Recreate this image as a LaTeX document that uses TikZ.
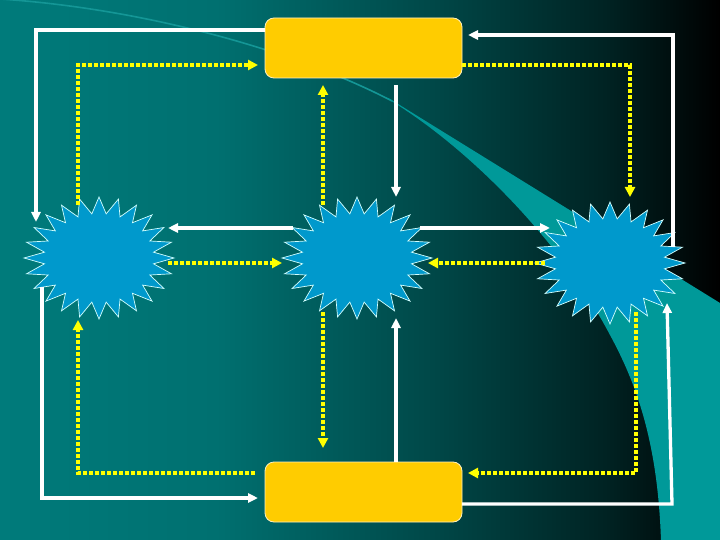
\documentclass[tikz,border=0pt]{standalone}
\usetikzlibrary{arrows.meta,calc}
\definecolor{bgA}{RGB}{0,123,123}
\definecolor{bgB}{RGB}{0,112,112}
\definecolor{bgC}{RGB}{0,72,72}
\definecolor{bgD}{RGB}{0,35,35}
\definecolor{swoosh}{RGB}{0,153,153}
\definecolor{arcline}{RGB}{20,150,150}
\definecolor{starfill}{RGB}{0,153,204}
\definecolor{starline}{RGB}{210,255,255}
\definecolor{boxfill}{RGB}{255,204,0}
\definecolor{boxline}{RGB}{255,240,190}
\definecolor{dotyellow}{RGB}{255,255,0}
\pgfdeclarehorizontalshading{bgshade}{100bp}{color(0bp)=(bgA); color(25bp)=(bgA); color(40bp)=(bgB); color(55bp)=(bgC); color(67bp)=(bgD); color(75bp)=(black); color(100bp)=(black)}
\newcommand{\burst}[1]{%
  \path[starline] ($(#1)+(0,-61)$)
  \foreach \k [evaluate=\k as \a using {90+7.5*\k},
               evaluate=\k as \rx using {75-20*(\k-2*floor(\k/2))},
               evaluate=\k as \ry using {61-16.5*(\k-2*floor(\k/2))}] in {1,...,47}
    { -- ($(#1)+({\rx*cos(\a)},{-\ry*sin(\a)})$) } -- cycle;}
\begin{document}
\begin{tikzpicture}[x=1pt,y=-1pt,
  boxnode/.style={draw=boxline, line width=0.8pt, fill=boxfill, rounded corners=9pt,
    minimum width=197pt, minimum height=60pt, inner sep=0pt, outer sep=0pt},
  starnode/.style={inner sep=0pt, outer sep=0pt, minimum width=150pt, minimum height=122pt},
  starline/.style={draw=starline, fill=starfill, line width=0.7pt, line join=miter},
  whitearrow/.style={draw=white, line width=3.3pt, -{Triangle[length=10pt,width=9pt]}},
  yellowarrow/.style={draw=dotyellow, line width=4pt, dash pattern=on 4pt off 2pt,
    -{Triangle[length=10pt,width=10pt]}},
]
\useasboundingbox (0,0) rectangle (720,540);
\begin{scope}
  \clip (0,0) rectangle (720,540);
  \shade[shading=bgshade] (0,0) rectangle (720,540);
  \draw[arcline, line width=1.6pt] (0,-1) .. controls (150,9) and (300,53) .. (392,101);
  \fill[swoosh] (385,97) -- (390,99) -- (720,303)
    -- (720,541) -- (661,541) .. controls (658,450) and (640,390) .. (610,335)
    .. controls (560,240) and (470,150) .. (393,102) -- cycle;
\end{scope}

\node[boxnode] (T) at (363.5,48) {};
\node[boxnode] (B) at (363.5,492) {};
\node[starnode] (L) at (99,258) {};
\node[starnode] (M) at (357,258) {};
\node[starnode] (R) at (610,263) {};
\burst{L}
\burst{M}
\burst{R}

\draw[whitearrow] ($(T.north west)+(0,12)$) -| ($(L)+(-63,-36)$);
\draw[yellowarrow] ($(L)+(-21,-53)$) |- ($(T.south west)+(-7,-13)$);
\draw[yellowarrow] ($(M)+(-34,-53)$) -- ($(T.south)+(-40.5,7)$);
\draw[whitearrow] ($(T.south)+(32.5,7)$) -- ($(M)+(39,-61)$);
\draw[whitearrow] ($(R)+(63,-16)$) |- ($(T.north east)+(6,17)$);
\draw[yellowarrow] ($(T.south east)+(0,-13)$) -| ($(R)+(20,-66)$);
\draw[whitearrow] ($(M)+(63,-30)$) -- ($(R)+(-60,-35)$);
\draw[whitearrow] ($(M)+(-64,-30)$) -- ($(L)+(69,-30)$);
\draw[yellowarrow] ($(L)+(69,5)$) -- ($(M)+(-75,5)$);
\draw[yellowarrow] ($(R)+(-65,0)$) -- ($(M)+(71,5)$);
\draw[whitearrow] ($(L)+(-57,29)$) |- ($(B.north west)+(-7,36)$);
\draw[yellowarrow] ($(B.north west)+(-10,11)$) -| ($(L)+(-21,62)$);
\draw[yellowarrow] ($(M)+(-34,54)$) -- ($(B.north)+(-40.5,-14)$);
\draw[whitearrow] ($(B.north)+(32.5,0)$) -- ($(M)+(39,60)$);
\draw[yellowarrow] ($(R)+(26,49)$) |- ($(B.north east)+(6,11)$);
\coordinate (c16) at ($(B.north east)+(210,42)$);
\draw[whitearrow] ($(B.north east)+(0,42)$) -- (c16) -- ($(R)+(57,40)$);
\end{tikzpicture}
\end{document}
